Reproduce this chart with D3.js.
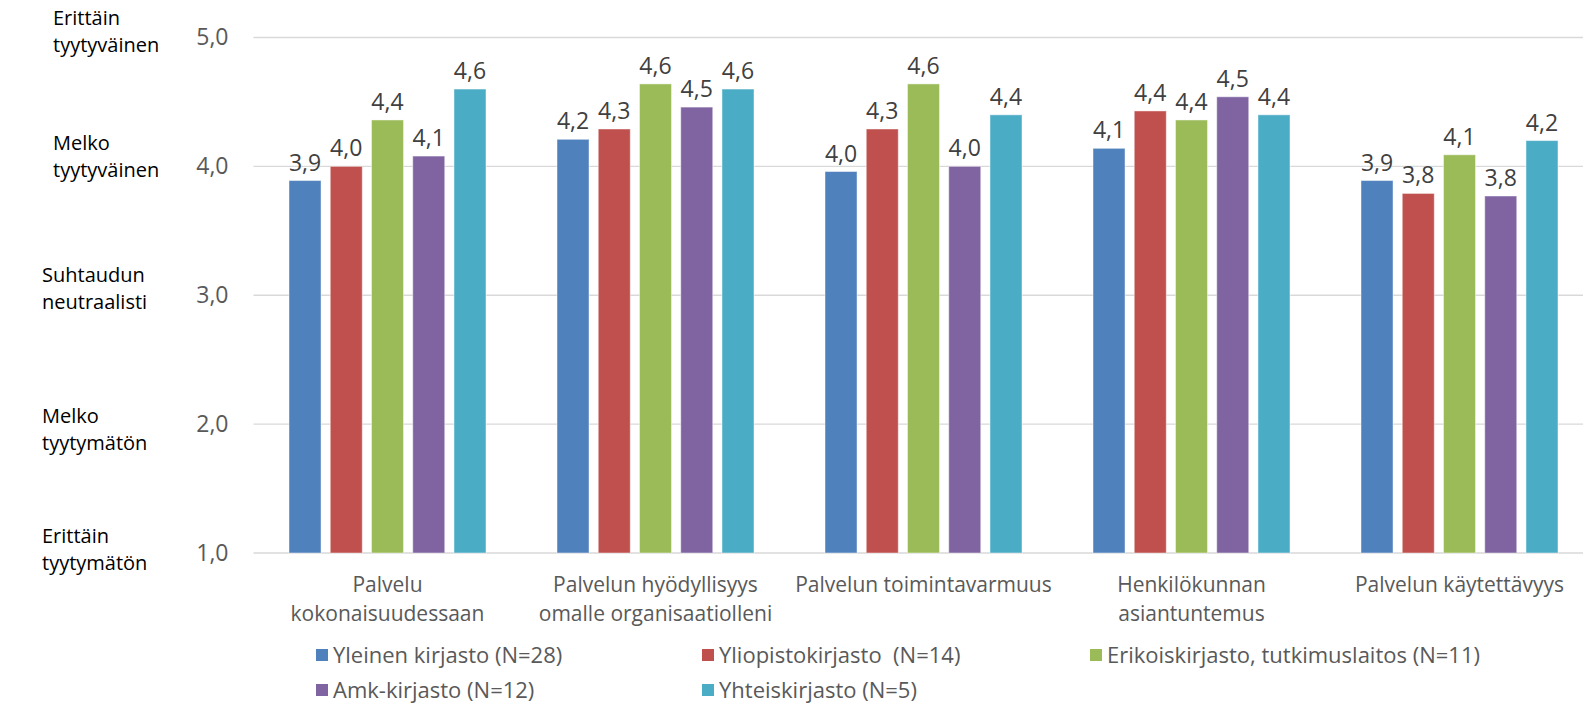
<!DOCTYPE html>
<html>
<head>
<meta charset="utf-8">
<script src="https://cdn.jsdelivr.net/npm/d3@7"></script>
<style>
  html, body { margin: 0; padding: 0; background: #fff; }
  svg { display: block; }
  text { font-family: "Open Sans", "Noto Sans", sans-serif; }
</style>
</head>
<body>
<svg id="chart" width="1583" height="705"></svg>
<script>
// Survey categories (x-axis groups)
const categories = [
  ["Palvelu", "kokonaisuudessaan"],
  ["Palvelun hyödyllisyys", "omalle organisaatiolleni"],
  ["Palvelun toimintavarmuus"],
  ["Henkilökunnan", "asiantuntemus"],
  ["Palvelun käytettävyys"]
];

// Library types (series)
const seriesNames = [
  "Yleinen kirjasto (N=28)",
  "Yliopistokirjasto  (N=14)",
  "Erikoiskirjasto, tutkimuslaitos (N=11)",
  "Amk-kirjasto (N=12)",
  "Yhteiskirjasto (N=5)"
];

// Mean satisfaction per series, one value per category
const yleinen   = [3.89, 4.21, 3.96, 4.14, 3.89];
const yliopisto = [4.00, 4.29, 4.29, 4.43, 3.79];
const erikois   = [4.36, 4.64, 4.64, 4.36, 4.09];
const amk       = [4.08, 4.46, 4.00, 4.54, 3.77];
const yhteis    = [4.60, 4.60, 4.40, 4.40, 4.20];
const seriesValues = [yleinen, yliopisto, erikois, amk, yhteis];

// Value axis ticks and the verbal scale beside them
const yTicks = [1, 2, 3, 4, 5];
const scaleLabels = [
  ["Erittäin", "tyytymätön"],
  ["Melko", "tyytymätön"],
  ["Suhtaudun", "neutraalisti"],
  ["Melko", "tyytyväinen"],
  ["Erittäin", "tyytyväinen"]
];

const colors = ["#4F81BD", "#C0504D", "#9BBB59", "#8064A2", "#4BACC6"];

const svg = d3.select("#chart");
const fmt = v => v.toFixed(1).replace(".", ",");

// Plot area (the grid runs past the right edge of the page)
const plot = { left: 253.5, right: 1593.5, top: 37.5, bottom: 553 };

const y = d3.scaleLinear().domain([1, 5]).range([plot.bottom, plot.top]);
const x0 = d3.scaleBand()
  .domain(d3.range(categories.length))
  .range([plot.left, plot.right])
  .paddingInner(0.265)
  .paddingOuter(0.1325);
const x1 = d3.scaleBand()
  .domain(d3.range(seriesNames.length))
  .range([0, x0.bandwidth()])
  .paddingInner(0.224);

// Gridlines
svg.append("g")
  .selectAll("line")
  .data(yTicks)
  .join("line")
  .attr("x1", plot.left)
  .attr("x2", plot.right)
  .attr("y1", d => y(d))
  .attr("y2", d => y(d))
  .attr("stroke", "#d9d9d9")
  .attr("stroke-width", 1.3);

// Tick labels
const yAxis = d3.axisLeft(y).tickValues(yTicks).tickFormat(fmt).tickSize(0).tickPadding(0);
const yAxisG = svg.append("g")
  .attr("transform", `translate(${plot.left - 25},0)`)
  .call(yAxis);
yAxisG.select(".domain").remove();
yAxisG.selectAll("text")
  .attr("font-family", "'Open Sans', sans-serif")
  .attr("font-size", 23)
  .attr("fill", "#595959");

// Verbal scale labels, nudged to sit by their ticks
const scaleNudge = [-4, 5, -7, -10, -6];
const scaleX = [42, 42, 42, 53, 53];
const scaleG = svg.append("g");
yTicks.forEach((t, i) => {
  const cy = y(t) + scaleNudge[i];
  const txt = scaleG.append("text")
    .attr("x", scaleX[i])
    .attr("font-size", 20)
    .attr("fill", "#000");
  scaleLabels[i].forEach((line, j) => {
    txt.append("tspan")
      .attr("x", scaleX[i])
      .attr("y", cy + (j === 0 ? -13.5 : 13.5))
      .attr("dy", "0.35em")
      .text(line);
  });
});

// Bars
const groups = svg.append("g")
  .selectAll("g")
  .data(categories.map((c, ci) => ci))
  .join("g")
  .attr("transform", ci => `translate(${x0(ci)},0)`);

groups.selectAll("rect")
  .data(ci => seriesValues.map((vals, si) => ({ si, v: vals[ci] })))
  .join("rect")
  .attr("x", d => x1(d.si))
  .attr("width", x1.bandwidth())
  .attr("y", d => y(d.v))
  .attr("height", d => y(1) - y(d.v))
  .attr("fill", d => colors[d.si])
  .attr("stroke", "#ffffff")
  .attr("stroke-opacity", 0.45)
  .attr("stroke-width", 1);

// Data labels
groups.selectAll("text.val")
  .data(ci => seriesValues.map((vals, si) => ({ si, v: vals[ci] })))
  .join("text")
  .attr("class", "val")
  .attr("x", d => x1(d.si) + x1.bandwidth() / 2)
  .attr("y", d => y(d.v) - 10)
  .attr("text-anchor", "middle")
  .attr("font-size", 23)
  .attr("fill", "#404040")
  .text(d => fmt(d.v));

// Category labels
const catG = svg.append("g");
categories.forEach((lines, ci) => {
  const cx = x0(ci) + x0.bandwidth() / 2;
  const t = catG.append("text")
    .attr("text-anchor", "middle")
    .attr("font-size", 21)
    .attr("fill", "#595959");
  lines.forEach((line, j) => {
    t.append("tspan")
      .attr("x", cx)
      .attr("y", 585 + j * 28.5)
      .attr("dy", "0.35em")
      .text(line);
  });
});

// Legend
const legendPos = [[316, 655], [702, 655], [1090, 655], [316, 690], [702, 690]];
const legend = svg.append("g")
  .selectAll("g")
  .data(seriesNames)
  .join("g")
  .attr("transform", (d, i) => `translate(${legendPos[i][0]},${legendPos[i][1]})`);
legend.append("rect")
  .attr("x", 0).attr("y", -6)
  .attr("width", 12).attr("height", 12)
  .attr("fill", (d, i) => colors[i]);
legend.append("text")
  .attr("x", 17)
  .attr("dy", "0.35em")
  .attr("font-size", 22)
  .attr("fill", "#595959")
  .style("white-space", "pre")
  .text(d => d);
</script>
</body>
</html>
